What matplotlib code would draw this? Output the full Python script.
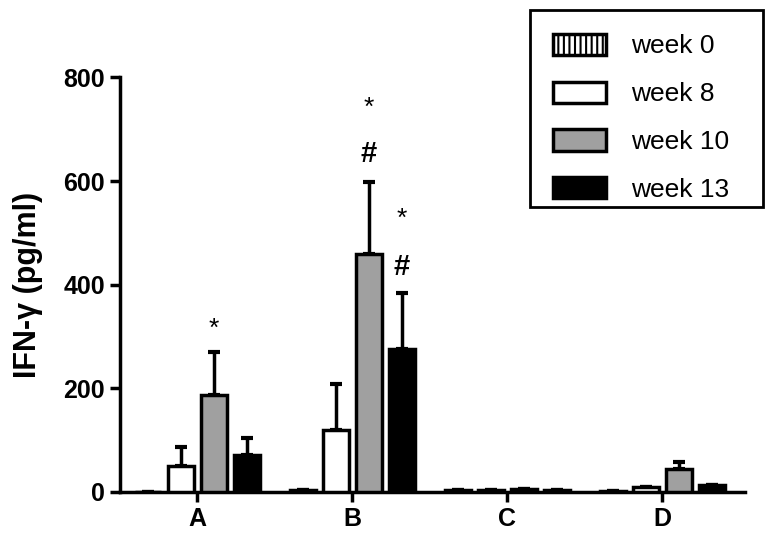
import matplotlib.pyplot as plt
import matplotlib.patches as mpatches
import numpy as np

plt.rcParams['font.family'] = ['Liberation Sans', 'DejaVu Sans']
plt.rcParams['hatch.linewidth'] = 1.5

groups = ['A', 'B', 'C', 'D']
series = ['week 0', 'week 8', 'week 10', 'week 13']

week0 = [0, 3, 3, 2]
week8 = [50, 120, 3, 10]
week10 = [187, 459, 6, 45]
week13 = [71, 275, 3, 14]

err0 = [0, 0, 0, 0]
err8 = [37, 88, 0, 0]
err10 = [83, 140, 0, 13]
err13 = [33, 110, 0, 0]

values = [week0, week8, week10, week13]
errors = [err0, err8, err10, err13]
colors = ['white', 'white', '#a0a0a0', 'black']
hatches = ['|||', None, None, None]

# significance marks: (group, series index, y, symbol)
marks = [(0, 2, 314, '*'), (1, 2, 742, '*'), (1, 2, 653, '#'),
         (1, 3, 528, '*'), (1, 3, 434, '#')]

fig = plt.figure(figsize=(7.73, 5.44), dpi=100)
ax = fig.add_axes([0.155, 0.0956, 0.809, 0.762])

x = np.arange(len(groups))
step = 0.213
width = 0.168
for i, (vals, errs) in enumerate(zip(values, errors)):
    pos = x + (i - 1.5) * step
    ax.bar(pos, vals, width, color=colors[i], edgecolor='black', linewidth=2.5,
           hatch=hatches[i], label=series[i], zorder=3)
    ax.errorbar(pos, vals, yerr=[np.zeros(len(errs)), errs], fmt='none',
                ecolor='black', elinewidth=2.5, capsize=4, capthick=3, zorder=2)

for g, s, yv, sym in marks:
    if sym == '#':
        ax.text(g + (s - 1.5) * step, yv, sym, ha='center', va='center',
                fontsize=21, fontweight='bold')
    else:
        ax.text(g + (s - 1.5) * step, yv, sym, ha='center', va='center', fontsize=19)

ax.set_xlim(-0.5, 3.535)
ax.set_ylim(0, 800)
ax.set_yticks([0, 200, 400, 600, 800])
ax.set_xticks(x)
ax.set_xticklabels(groups)
ax.set_ylabel('IFN-γ (pg/ml)', fontsize=22, fontweight='bold', labelpad=15)

for s in ['top', 'right']:
    ax.spines[s].set_visible(False)
for s in ['left', 'bottom']:
    ax.spines[s].set_linewidth(2.5)
ax.tick_params(width=2.5, length=7, labelsize=18)
for lab in ax.get_xticklabels() + ax.get_yticklabels():
    lab.set_fontweight('bold')

# legend box drawn separately so its padding can differ per side
fig.patches.append(mpatches.Rectangle((0.6857, 0.6195), 0.3014, 0.3621,
                                      transform=fig.transFigure, fill=False,
                                      edgecolor='black', linewidth=2))
fig.legend(loc='upper left', bbox_to_anchor=(0.7154, 0.938), fontsize=19,
           frameon=False, handlelength=2.0, handleheight=0.85, labelspacing=0.88,
           borderpad=0, handletextpad=0.95, borderaxespad=0)

fig.savefig('out.png', dpi=100)
